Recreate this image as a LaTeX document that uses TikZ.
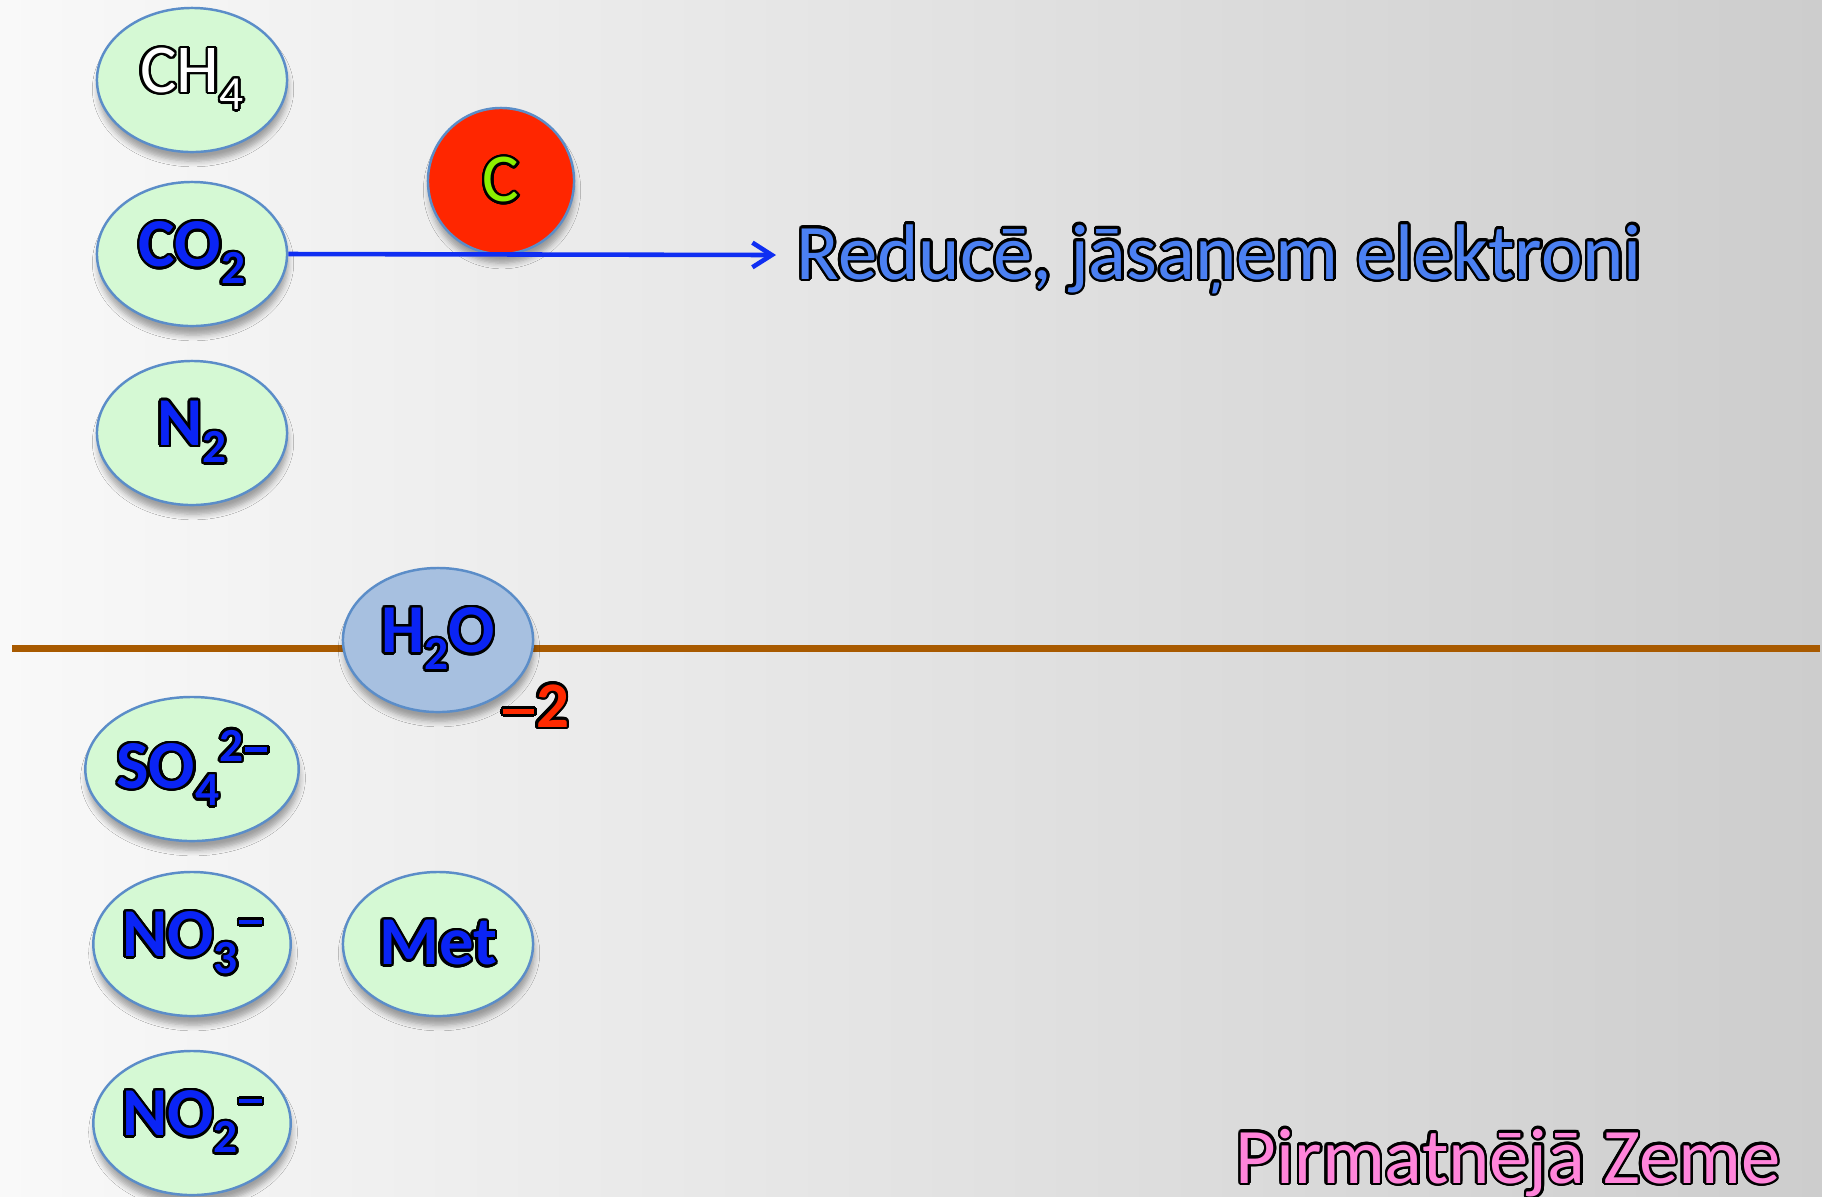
\documentclass[tikz,border=0pt]{standalone}
\usepackage{fontspec}
\setmainfont{Carlito}
\usepackage{contour}
\usetikzlibrary{arrows.meta,shadows.blur,shapes.geometric}
\contourlength{0.7pt}
\contournumber{24}
\definecolor{ellfill}{HTML}{D5F9D4}
\definecolor{ellline}{HTML}{5B8DC8}
\definecolor{h2ofill}{HTML}{A7C0E0}
\definecolor{chemblue}{HTML}{0A24F5}
\definecolor{redtxt}{HTML}{FF2A00}
\definecolor{circred}{HTML}{FF2600}
\definecolor{cgreen}{HTML}{8CF000}
\definecolor{reducecol}{HTML}{4B80F2}
\definecolor{pinkcol}{HTML}{FF84DA}
\definecolor{browncol}{HTML}{A85A00}
\definecolor{arrowblue}{HTML}{0F2EF2}
\definecolor{bgA}{HTML}{F9F9F9}
\definecolor{bgC}{HTML}{CDCDCD}
\newcommand\chsub[1]{\raisebox{-0.25em}{\fontsize{13.5}{13.5}\selectfont #1}}
\newcommand\chsup[1]{\raisebox{0.4em}{\fontsize{13.5}{13.5}\selectfont #1}}
\newcommand\chminus[1]{\kern0.02em\rule[#1]{0.33em}{0.07em}}
\begin{document}
\begin{tikzpicture}[x=0.01cm,y=-0.01cm,
  softshadow/.style={blur shadow={shadow xshift=0.3pt, shadow yshift=-2.6pt, shadow blur radius=1.6pt, shadow blur steps=5, shadow opacity=35}},
  ell/.style={ellipse, draw=ellline, line width=0.7pt, fill=ellfill, minimum width=1.9cm, minimum height=1.44cm, inner sep=0pt, text=chemblue, font=\fontsize{19.5}{19.5}\selectfont\bfseries, softshadow},
  big/.style={inner sep=0pt, font=\fontsize{22.4}{22.4}\selectfont}]
\useasboundingbox (0,0) rectangle (1822,1196);
\shade[left color=bgA, right color=bgC] (0,0) rectangle (1822,1196);
% soil line
\coordinate (lineL) at (12,648);
\coordinate (lineR) at (1820,648);
\draw[browncol, line width=2pt] (lineL) -- (lineR);
% atmosphere molecules
\node[ell, text=white, font=\fontsize{19.5}{19.5}\selectfont] (ch4) at (192,80) {\contour{black}{CH\chsub{4}}};
\node[ell] (co2) at (192,254) {\contour{black}{CO\chsub{2}}};
\node[ell] (n2) at (192,433) {\contour{black}{N\chsub{2}}};
% water
\node[ell, fill=h2ofill] (h2o) at (438,640) {\contour{black}{H\chsub{2}O}};
\node[font=\fontsize{18.5}{18.5}\selectfont\bfseries, text=redtxt, inner sep=0pt] (minus2) at (536,707) {\contour{black}{\rule[0.2em]{0.48em}{0.085em}\kern0.03em 2}};
% soil molecules
\node[ell] (so4) at (192,769) {\contour{black}{SO\chsub{4}\chsup{2}\chminus{0.53em}}};
\node[ell] (no3) at (192,944) {\contour{black}{NO\chsub{3}\chminus{0.47em}}};
\node[ell] (met) at (438,944) {\contour{black}{Met}};
\node[ell] (no2) at (192,1123) {\contour{black}{NO\chsub{2}\chminus{0.47em}}};
% carbon
\node[circle, draw=ellline, line width=0.7pt, fill=circred, minimum size=1.46cm, inner sep=0pt, text=cgreen, font=\fontsize{19.5}{19.5}\selectfont, softshadow] (c) at (501,181) {\contour{black}{C}};
% arrow
\coordinate (tip) at (776,255);
\draw[arrowblue, line width=1.3pt, -{Straight Barb[length=5.5pt,width=7pt]}] (co2.east) -- (tip);
\node[big, anchor=base west, text=reducecol] (reduce) at (796,279) {\contour{black}{Reducē, jāsaņem elektroni}};
\node[big, anchor=base east, text=pinkcol] (earth) at (1781,1183) {\contour{black}{Pirmatnējā Zeme}};
\end{tikzpicture}
\end{document}
